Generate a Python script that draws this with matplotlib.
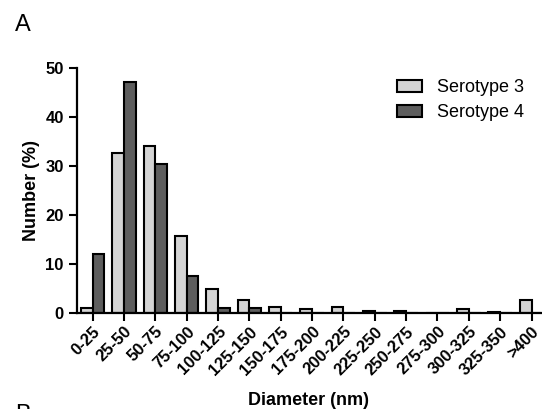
import numpy as np
import matplotlib

matplotlib.use("Agg")
import matplotlib.pyplot as plt

plt.rcParams['font.family'] = ['Liberation Sans', 'DejaVu Sans']

# 直径分组
categories = ['0-25', '25-50', '50-75', '75-100', '100-125', '125-150',
              '150-175', '175-200', '200-225', '225-250', '250-275',
              '275-300', '300-325', '325-350', '>400']
serotype3 = [1.0, 32.7, 34.1, 15.6, 4.9, 2.7, 1.2, 0.7, 1.1, 0.3, 0.3, 0.0, 0.7, 0.2, 2.7]
serotype4 = [12.1, 47.2, 30.4, 7.6, 0.9, 1.0, 0.0, 0.0, 0.0, 0.0, 0.0, 0.0, 0.0, 0.0, 0.0]
y_ticks = [0, 10, 20, 30, 40, 50]

fig = plt.figure(figsize=(5.42, 4.09), dpi=100)
ax = fig.add_axes([0.142, 0.235, 0.856, 0.599])

x = np.arange(len(categories))
w = 0.375
ax.bar(x - w / 2, serotype3, width=w, color='#d4d4d4', edgecolor='black',
       linewidth=1.5, label='Serotype 3')
ax.bar(x + w / 2, serotype4, width=w, color='#5e5e5e', edgecolor='black',
       linewidth=1.5, label='Serotype 4')

ax.set_xlim(-0.5, 14.3)
ax.set_ylim(0, 50)
ax.set_yticks(y_ticks)
ax.set_xticks(x)
ax.set_xticklabels(categories, rotation=45, ha='right', rotation_mode='anchor',
                   fontsize=12, fontweight='bold')
for lab in ax.get_yticklabels():
    lab.set_fontsize(12)
    lab.set_fontweight('bold')

ax.spines['top'].set_visible(False)
ax.spines['right'].set_visible(False)
for s in ['left', 'bottom']:
    ax.spines[s].set_linewidth(1.6)
ax.tick_params(axis='both', width=1.5, length=6, direction='out')
ax.tick_params(axis='x', pad=2)

ax.set_ylabel('Number (%)', fontsize=13, fontweight='bold', labelpad=4)
ax.set_xlabel('Diameter (nm)', fontsize=13, fontweight='bold', labelpad=10)

ax.legend(loc='upper left', bbox_to_anchor=(0.655, 1.02), frameon=False,
          fontsize=13, handlelength=1.4, handleheight=0.6,
          handletextpad=0.8, labelspacing=0.45)

fig.text(0.027, 0.925, 'A', fontsize=17)
fig.text(0.027, -0.03, 'B', fontsize=17)

fig.savefig('out.png', dpi=100)
plt.close(fig)
